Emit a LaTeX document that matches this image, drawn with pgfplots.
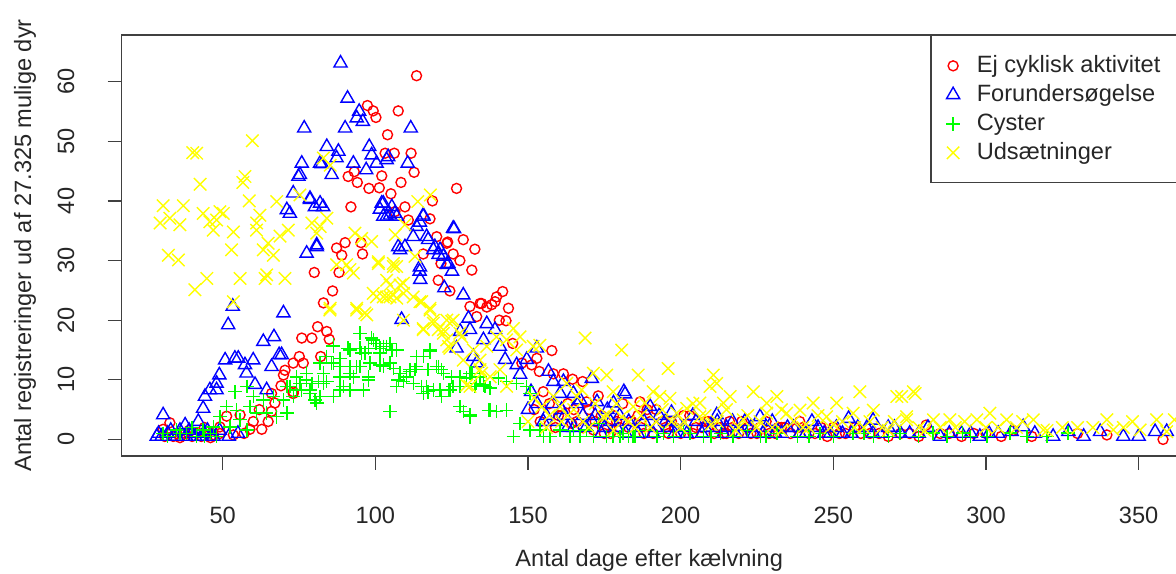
\documentclass[border=0pt]{standalone}
\usepackage{fontspec}
\setmainfont{Liberation Sans}
\usepackage{pgfplots}
\pgfplotsset{compat=1.18}
\newcommand{\fs}{\fontsize{11.8}{14}\selectfont}
\pgfplotsset{myleg/.style={legend image code/.code={\path (0pt,0pt) (11pt,0pt); \draw[##1] plot coordinates {(5.5pt,0pt)};}}}
\definecolor{rred}{RGB}{255,0,0}
\definecolor{rblue}{RGB}{0,0,255}
\definecolor{rgreen}{RGB}{0,255,0}
\definecolor{ryellow}{RGB}{255,255,0}
\begin{document}
\begin{tikzpicture}
\begin{axis}[
  scale only axis, width=532.9pt, height=210.5pt,
  xmin=16.9, xmax=366, ymin=-2.77, ymax=67.84,
  axis line style={black!75, line width=0.6pt},
  tick style={black!75, line width=0.6pt},
  tick align=outside, tick pos=left, major tick length=7pt,
  xtick={50,100,...,350}, ytick={0,10,...,60},
  /pgf/number format/assume math mode=true,
  tick label style={font=\fs, text=black!85},
  xticklabel style={anchor=center, yshift=-22.5pt},
  yticklabel style={anchor=center, xshift=-20.85pt, rotate=90},
  every axis x label/.style={at={(axis description cs:0.495,0)}, anchor=center, yshift=-52pt, font=\fs, text=black!85},
  every axis y label/.style={at={(axis description cs:0,0.5)}, anchor=center, xshift=-48.35pt, rotate=90, font=\fs, text=black!85},
  xlabel={Antal dage efter kælvning},
  ylabel={Antal registreringer ud af 27.325 mulige dyr},
  legend style={at={(0.7594,1)}, anchor=north west, draw=none, fill=none, font=\fs, row sep=0pt, inner xsep=5pt, inner ysep=8pt, nodes={inner xsep=0pt, inner ysep=0pt, text height=10.5pt, text depth=4pt, text=black!85}, column sep=6pt},
  legend cell align=left,
]
\addplot[only marks, myleg, mark=o, rred, mark size=2.5pt, line width=0.7pt] coordinates {
(113.5,61.0)(97.4,56.0)(99.3,55.1)(100.2,54.0)(107.5,55.1)(104.0,51.1)(103.2,48.0)(106.2,48.0)(111.7,48.0)(112.7,44.8)
(91.1,44.1)(94.1,43.1)(93.1,44.9)(102.1,44.2)(97.9,42.1)(101.3,42.2)(108.4,43.1)(105.1,41.2)(126.6,42.1)(118.7,40.0)
(92.0,39.0)(109.7,39.0)(106.4,38.2)(110.8,36.8)(117.9,37.0)(120.1,34.0)(128.8,33.5)(123.7,33.1)(132.6,31.9)(125.5,31.1)
(127.7,30.0)(115.7,31.1)(131.6,28.4)(121.5,29.5)(120.6,26.7)(124.4,24.9)(141.7,24.8)(139.7,23.9)(139.2,23.1)(138.1,22.6)
(136.5,22.2)(143.6,22.0)(134.3,22.8)(140.6,20.0)(142.8,19.9)(145.0,16.1)(157.8,14.9)(152.9,13.6)(148.0,12.8)(151.2,12.5)
(153.7,11.4)(158.3,11.0)(161.6,11.0)(164.6,10.1)(167.9,9.7)(173.0,7.3)(169.2,6.3)(171.4,1.6)(164.3,2.7)(123.4,32.9)
(90.1,33.0)(95.3,33.0)(87.3,32.1)(89.0,30.9)(95.8,31.1)(80.0,28.0)(88.1,28.0)(86.0,24.9)(83.0,22.9)(81.1,18.9)
(84.1,18.1)(84.9,16.8)(75.9,17.0)(79.2,17.0)(75.1,13.9)(82.1,13.9)(73.1,12.8)(76.4,12.8)(73.1,7.7)(134.8,22.8)
(131.0,22.3)(133.2,20.6)(70.4,11.6)(69.9,10.8)(69.1,9.0)(73.1,8.0)(66.0,7.7)(67.1,6.1)(66.0,4.7)(64.9,3.0)
(62.8,1.7)(58.9,1.7)(55.7,4.1)(51.3,3.9)(53.5,0.75)(49.1,2.1)(32.7,2.8)(30.5,1.7)(33.8,0.5)(37.7,1.0)
(41.5,1.0)(45.3,1.3)(49.1,1.0)(35,1)(40,0.5)(43,0.5)(47,0.8)(57,1)(60,3)(62,5)
(31,0.5)(36,0.3)(39,1.5)(44,2)(46,0.3)
(160,4)(163,6)(166,3)(170,5)(174,4)(176,2)(179,3)(181,6)(183,2)(186.7,6.3)(186,4)(188,1)(190,3)(192,5)(195,2)
(197,3)(200,1)(203,4)(205,2)(208,3)(211,1)(213,2)(216,3)(219,1)(222,2)(225,1)(228,3)(231,1)(234,2)(238,1.9)
(240,2)(244,1)(248,0.5)(252,1)(257,2)(262,1)(268,0.5)(275,1)(280.4,2.4)(285,1)(292,0.5)(300,1)(309,1.5)(315,0.5)
(330,1)(339.6,0.75)(358,0)(155,8)(177,1)(196,1)(215,1)(232,2)(250,2)
(152,5)(154,3)(157,6)(159,2)(161,4)(165,5)(168,2)(172,3)(175,1)(178,4)(180,2)(184,3)(187,2)(189,5)(191,1)
(194,3)(198,2)(201,4)(204,1)(207,2)(209,3)(212,2)(214,1)(217,2)(220,3)(223,1)(226,2)(229,1)(233,2)(236,1)
(239,3)(242,1)(246,2)(254,1)(259,1)(265,1)(272,1)(278,0.5)(288,1)(296,1)(305,0.5)
};
\addlegendentry{Ej cyklisk aktivitet}
\addplot[only marks, myleg, mark=triangle, rblue, mark size=3.8pt, line width=0.7pt] coordinates {
(88.6,63.1)(90.9,57.2)(94.7,55.0)(93.9,53.9)(95.9,53.3)(90.1,52.2)(76.7,52.2)(111.6,52.2)(84.1,49.1)(87.9,48.3)
(87.3,47.2)(98.0,49.1)(98.8,47.7)(100.4,46.3)(103.7,46.9)(104.2,47.4)(110.6,46.3)(75.9,46.3)(75.3,44.4)(81.9,46.3)
(85.7,44.4)(92.8,46.3)(97.0,45.2)(74.8,44.1)(82.5,46.2)(73.1,41.3)(78.6,40.4)(81.9,39.6)(71.0,38.5)(102.1,39.6)
(105.4,39.0)(103.7,37.4)(107.0,37.4)(80.8,32.6)(78.6,40.2)(80.2,39.0)(82.9,39.0)(72.0,37.9)(125.5,35.4)(115.7,37.4)
(113.5,35.7)(102.6,37.4)(104.8,37.6)(112.4,34.0)(116.8,34.0)(102.6,39.6)(106.4,37.9)(101.5,38.6)(115.7,37.6)(114.6,36.4)
(125.8,35.3)(107.5,32.3)(109.7,32.3)(117.3,33.5)(119.5,32.3)(121.2,31.8)(122.3,30.7)(123.9,29.5)(114.6,28.9)
(108.1,31.8)(119.0,31.8)(120.7,31.0)(123.4,29.3)(125.1,28.2)(114.5,28.2)(114.7,26.8)(122.6,25.4)(128.8,24.2)(130.5,20.3)
(127.8,18.1)(131.0,18.4)(136.5,19.4)(139.2,18.4)(135.4,16.7)(126.6,15.3)(132.1,13.9)(133.2,12.8)(140.8,15.6)(142.5,13.4)
(152.9,15.3)(146.3,12.5)(149.6,13.4)(147.4,10.9)(156.7,11.4)(158.3,9.7)(161.6,9.7)(160.5,7.7)(164.9,7.7)(170.9,10.2)
(167.1,6.6)(172.6,6.3)(181.8,7.6)(178.0,6.1)(108.6,20.1)
(80.8,32.3)(77.5,31.2)(53.3,22.3)(51.8,19.2)(69.9,21.2)(63.3,16.4)(66.8,17.2)(68.5,14.2)(69.3,14.2)(50.8,13.3)
(54.0,13.6)(55.1,13.6)(60.0,13.3)(57.3,12.5)(57.8,11.1)(48.9,10.8)(48.0,9.4)(45.8,8.3)(48.0,8.3)(60.6,9.2)
(43.6,5.2)(44.2,7.2)(66.0,12.2)(64.4,8.3)(30.5,4.1)(37.7,2.4)(42.0,3.0)(28.4,0.5)(181.4,8.0)(211.8,4.1)
(30,0.5)(32,1)(34,0.5)(36,1.5)(38,0.5)(40,1)(43,0.5)(45,1.5)(47,0.5)(55,1)
(29,1)(33,1.5)(35,0.5)(39,1.5)(41,0.5)(44,1)(46,0.5)(49,1.5)(52,0.5)
(150,5)(155,3)(158,6)(162,4)(165,2)(168,4)(171,3)(174,1)(176,5)(179,2)(183,3)(186,1)(189,4)(190,5.5)(192,2)
(195,3)(197,4.5)(198,1)(201,2)(204,4)(207,1)(210,2)(214,1)(217,3)(220,1)(223,2)(226,3.8)(227,1)(230,3)(233,1)
(237,2)(241,1)(245,2)(249,1)(253,1)(255,3.5)(258,2)(263,3.2)(263,1)(268,2)(272,1)(278,1)(285,0.5)(292,1)(298,0.5)
(304,1)(308.4,1.3)(312.2,2.1)(327.0,1.3)(332,0.5)(337.4,1.3)(345,0.5)(350,0.5)(355.4,1.3)(359.2,1.3)
(151,8)(153,6)(156,4)(159,3)(161,5)(163,2)(166,6)(169,2)(172,4)(175,2)(177,3)(180,4)(182,1)(185,2)(188,3)
(191,1)(193,4)(196,2)(199,3)(202,1)(205,3)(208,2)(212,3)(215,2)(218,1)(221,3)(224,1)(228,2)(231,1)(235,2)
(239,1)(243,3)(247,1)(251,2)(256,1)(261,2)(266,1)(270,2)(275,1)(281,2)(288,1)(295,1)(301,1)(316,1)(322,0.5)
};
\addlegendentry{Forundersøgelse}
\addplot[only marks, myleg, mark=+, rgreen, mark size=3.4pt, line width=0.7pt] coordinates {
(95.0,17.8)(98.8,17.0)(100.2,16.1)(104.8,16.1)(91.1,15.3)(95.0,15.3)(97.7,15.3)(101.5,15.3)(107.0,15.0)(86.2,15.8)
(84.1,13.9)(88.4,13.6)(85.7,12.8)(88.4,12.2)(95.5,14.5)(93.9,12.2)(98.2,12.8)(101.5,12.5)(102.6,12.2)(105.9,11.9)
(97.7,10.0)(91.7,11.1)(92.8,10.5)(91.7,8.3)(89.5,8.9)(81.3,9.7)(83.0,9.4)(77.5,10.0)(74.2,10.5)(75.9,8.3)
(78.6,8.3)(72.0,8.9)(80.2,6.6)(80.8,6.1)(104.8,4.7)(107.5,10.0)(109.2,9.7)(110.3,10.5)(111.3,11.7)(113.0,11.7)
(113.5,13.9)(117.9,14.7)(117.3,11.7)(120.1,12.2)(121.7,11.7)(119.0,8.3)(115.7,7.7)(115.2,8.9)(117.3,8.0)(121.7,7.2)
(123.9,8.3)(125.5,8.9)(128.8,4.7)(131.0,3.8)(132.6,8.9)(135.9,8.9)(134.3,10.5)(131.6,11.1)(137.0,4.9)
(99.3,16.7)(103.7,15.6)(86.2,15.6)(91.7,15.0)(96.6,14.5)(101.5,14.5)(81.9,12.8)(86.2,12.8)(91.7,12.2)(95.0,12.2)
(102.6,12.5)(77.5,11.1)(83.0,11.1)(88.4,10.5)(97.7,10.5)(75.3,9.4)(79.2,9.4)(84.1,9.7)(88.4,8.3)(96.1,8.3)
(107.0,8.9)(71.0,8.9)(74.2,8.3)(78.6,7.7)(81.9,7.2)(86.2,7.2)(54.0,8.0)(57.9,8.9)(60.0,7.2)(63.3,6.6)
(66.6,7.2)(69.9,6.6)(73.1,7.2)(51.3,5.5)(54.6,4.9)(58.9,5.5)(61.1,4.4)(64.4,4.4)(67.7,3.8)(71.0,4.4)
(49.1,3.8)(46.9,2.1)(43.6,1.6)(38.2,1.0)(34.9,1.6)(30.5,1.0)(41.5,0.5)(52.4,2.1)(55.7,3.3)(57.9,1.6)
(102.6,15.6)(105.4,15.0)(104.8,12.8)(108.1,11.1)(111.3,11.4)(113.5,12.2)(115.7,13.9)(117.9,15.0)(120.6,12.2)(122.3,11.1)
(125.0,10.5)(127.7,10.5)(129.9,10.3)(131.0,11.1)(112.4,9.4)(116.8,8.9)(121.2,8.3)(124.4,8.3)(127.7,8.9)(133.2,9.4)
(135.4,9.1)(137.6,8.6)(140.3,10.3)(143.0,9.7)(146.3,9.4)(149.6,8.9)(150.7,7.7)(127.7,5.5)(131.0,4.1)(137.6,4.9)
(139.7,4.7)(143.0,4.9)(147.4,2.7)(145.2,0.5)(150.7,1.6)(153.9,1.6)(157.2,0.5)(160.5,1.6)(163.8,0.5)(167.0,0.5)
(171.4,0.5)(175.8,0.5)(177.9,0.5)(180.1,0.5)(182.9,0.5)(169.2,1.6)(173.0,2.7)
(32,0.5)(36,1)(40,2)(44,0.5)(46,1)(48,0.5)
(181.1,1)(184.4,0.5)(188.4,1.5)(192.3,0.5)(194.3,1)(197.6,0.5)(200.9,1.5)(207.4,0.5)(213.0,1)(217.2,0.5)
(221.8,1.5)(226.1,0.5)(231.6,1)(238.2,0.5)(245.7,1)(250.0,0.5)(256.5,1)(263.1,0.5)(271.9,1)(282.6,1.1)
(287.2,0.5)(292.4,1.1)(300.3,0.5)(307.9,1.1)(313.4,0.5)(326.9,1.1)
(155,0.5)(165,1.5)(185,0.5)(203,1)(210,0.5)(228,0.5)(242,0.5)(260,1)(268,0.5)(278,0.5)(295,0.5)(320,0.5)
};
\addlegendentry{Cyster}
\addplot[only marks, myleg, mark=x, ryellow, mark size=4.4pt, line width=0.7pt] coordinates {
(40.2,48.1)(41.5,48.0)(59.7,50.1)(42.6,42.8)(57.3,44.1)(56.6,43.1)(58.7,40.0)(30.5,39.2)(37.1,39.2)(43.6,37.9)
(49.1,38.2)(50.2,37.9)(29.5,36.3)(32.7,37.1)(36.0,36.0)(45.8,36.5)(48.0,36.8)(53.5,34.8)(46.9,35.1)(61.1,36.3)
(67.7,39.9)(62.2,37.6)(61.1,35.1)(64.9,32.9)(68.8,34.1)(71.5,35.1)(75.3,41.0)(79.2,36.3)(81.9,35.7)(84.1,37.1)
(80.8,34.6)(83.0,47.2)(85.2,46.0)
(32.2,30.9)(35.5,30.1)(52.9,31.8)(63.3,31.8)(66.6,30.9)(44.8,27.0)(40.9,25.1)(55.7,27.0)(64.4,27.6)(70.4,27.0)
(63.9,27.0)(53.5,23.1)(87.3,29.3)(92.8,27.9)(101.0,29.5)(103.7,26.7)(100.4,23.9)(104.8,23.9)(93.9,22.0)(97.2,20.9)
(85.2,22.0)(93.3,34.6)(95.5,33.7)(98.8,33.2)(90.6,29.3)(91.7,28.5)(101.0,29.8)(107.0,29.0)(85.1,21.7)(93.9,21.7)
(96.6,21.2)(99.3,24.5)(102.6,23.9)(105.9,24.2)(109.2,24.5)(112.4,23.9)(115.2,23.1)(117.9,22.0)(104.8,25.9)(108.1,25.9)
(115.7,18.4)(119.0,19.5)(122.3,18.4)(123.4,16.7)(125.5,20.0)(127.7,17.8)(124.4,15.3)(129.9,9.1)(134.3,13.3)(134.8,11.1)
(105.9,29.0)(109.2,26.2)(107.0,23.7)(103.7,23.9)(114.6,23.1)(117.9,21.7)(109.2,20.0)(119.0,20.0)(115.7,18.6)(120.6,18.4)
(123.4,20.0)(125.0,19.8)(122.3,17.8)(124.0,15.6)(128.3,17.2)(132.1,15.0)(136.5,15.6)(139.7,17.2)(145.2,18.6)(143.0,16.7)
(147.4,17.2)(151.7,15.6)(146.3,15.0)(128.8,13.3)(131.0,8.9)(134.3,11.7)(137.6,10.5)(140.8,11.7)(143.0,8.9)(153.9,15.8)
(168.7,17.0)(180.7,15.0)(171.4,11.1)(175.8,10.8)(177.9,8.0)(162.7,9.4)(166.0,7.2)(167.6,8.3)(158.3,7.2)(160.5,5.5)
(154.5,5.5)(184.5,5.5)(180.7,3.8)(174.7,3.8)(113.9,39.9)(109.7,36.0)(105.9,29.5)(113.0,30.7)(118,41)(106.5,34.3)
(186.1,10.8)(195.9,11.9)(210.7,10.8)(209.6,8.9)(211.8,9.4)(191.0,8.0)(193.2,7.2)(196.5,6.9)(202.0,5.2)(206.3,6.1)
(214.0,6.1)(216.2,7.2)(223.8,8.0)(228.2,6.1)(231.5,7.2)(239.1,4.9)(243.4,6.1)(251.1,6.1)(258.7,8.0)(263.1,4.9)
(270.8,7.2)(276.2,8.0)(274.0,3.8)(256.5,4.4)(247.8,3.8)(228.2,4.4)(234.7,4.4)(220.5,3.3)(206.3,3.8)(198.7,4.4)
(188.3,6.1)(276.8,7.7)(272.4,7.2)(274.0,3.3)(282.8,3.3)(288.2,3.3)(297.0,3.3)(301.3,4.4)(306.8,3.3)(315.5,3.3)
(318.8,1.6)(339.6,3.3)(341.7,1.6)(350.5,1.6)(355.9,3.3)(359.2,1.3)(361.7,3.3)
(150,3)(156,2)(163,4)(170,2)(178,1.5)(185,2)(192,3)(200,2)(210,2.5)(218,1.5)(225,2)(233,1.5)(242,2)(250,2.5)
(260,2)(268,1.5)(280,1.5)(290,2)(300,2)(310,2)(320,1.5)(330,2)(345,2)
(152,7)(157,4)(161,3)(165,5)(168,3)(172,6)(176,4)(179,6)(183,3)(187,4)(190,2)(194,5)(197,3)(201,3)(204,6)
(208,4)(212,3)(215,5)(219,2)(222,4)(226,3)(230,2)(233,5)(237,3)(240,2)(245,4)(249,2)(253,3)(257,2)(262,3)
(266,2)(270,3)(278,2)(285,2)(293,3)(304,2)(312,3)(325,2)(335,2)(348,3)
};
\addlegendentry{Udsætninger}
\draw[black!75, line width=0.6pt] (axis cs:282.0,43.07) rectangle (axis cs:372,67.84);
\coordinate (bbsw) at (axis cs:-22.94,-22.56);
\coordinate (bbne) at (axis cs:362.25,73.7);
\end{axis}
\pgfresetboundingbox
\useasboundingbox (bbsw) rectangle (bbne);
\end{tikzpicture}
\end{document}
